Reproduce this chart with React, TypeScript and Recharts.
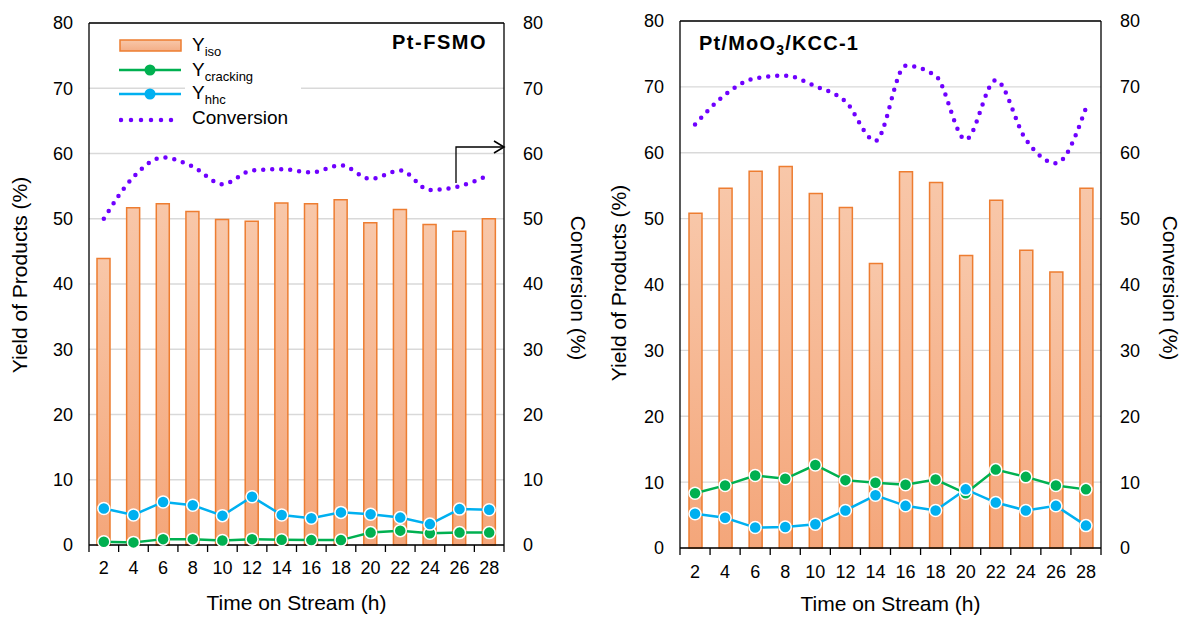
import React from 'react';
import {
  ComposedChart,
  Bar,
  Line,
  XAxis,
  YAxis,
  CartesianGrid,
  ReferenceLine,
  Legend,
  Label,
} from 'recharts';

const FONT = '"Liberation Sans", Arial, Helvetica, sans-serif';

// ---------- data ----------
const times = ['2', '4', '6', '8', '10', '12', '14', '16', '18', '20', '22', '24', '26', '28'];
const yTicks = [0, 10, 20, 30, 40, 50, 60, 70, 80];

// Pt-FSMO
const fsmoIso = [43.9, 51.7, 52.3, 51.1, 49.9, 49.6, 52.4, 52.3, 52.9, 49.4, 51.4, 49.1, 48.1, 50.0];
const fsmoCracking = [0.5, 0.4, 0.9, 0.9, 0.7, 0.9, 0.8, 0.75, 0.75, 1.9, 2.2, 1.8, 1.9, 1.9];
const fsmoHhc = [5.6, 4.6, 6.6, 6.1, 4.5, 7.4, 4.6, 4.1, 5.0, 4.7, 4.2, 3.2, 5.5, 5.4];
const fsmoConversion = [50.0, 56.4, 59.4, 58.0, 55.3, 57.4, 57.6, 57.1, 58.2, 56.1, 57.4, 54.4, 55.0, 56.7];

// Pt/MoO3/KCC-1
const kccIso = [50.8, 54.6, 57.2, 57.9, 53.8, 51.7, 43.2, 57.1, 55.5, 44.4, 52.8, 45.2, 41.9, 54.6];
const kccCracking = [8.3, 9.5, 11.0, 10.5, 12.6, 10.3, 9.9, 9.6, 10.4, 8.3, 11.9, 10.8, 9.5, 8.9];
const kccHhc = [5.2, 4.6, 3.1, 3.2, 3.6, 5.7, 8.0, 6.4, 5.7, 8.9, 6.9, 5.7, 6.4, 3.4];
const kccConversion = [64.3, 68.8, 71.3, 71.7, 70.1, 67.8, 61.8, 73.2, 71.7, 62.0, 71.0, 62.0, 58.4, 66.8];

const build = (iso: number[], crack: number[], hhc: number[], conv: number[]) =>
  times.map((t, i) => ({ t, iso: iso[i], crack: crack[i], hhc: hhc[i], conv: conv[i] }));

const fsmoData = build(fsmoIso, fsmoCracking, fsmoHhc, fsmoConversion);
const kccData = build(kccIso, kccCracking, kccHhc, kccConversion);

// ---------- styles ----------
const GREEN = '#00b050';
const BLUE = '#00b0f0';
const PURPLE = '#6f00ff';
const BAR_STROKE = '#ed7d31';
const GRID = '#d9d9d9';

const makeXTick = (bw: number, n: number, labelDy: number) => (props: any) => {
  const { x, y, payload, index } = props;
  return (
    <g>
      <line x1={x - bw / 2} x2={x - bw / 2} y1={y} y2={y + 7} stroke="#000" strokeWidth={1.3} />
      {index === n - 1 && (
        <line x1={x + bw / 2} x2={x + bw / 2} y1={y} y2={y + 7} stroke="#000" strokeWidth={1.3} />
      )}
      <text
        x={x}
        y={y + labelDy}
        textAnchor="middle"
        dominantBaseline="central"
        fontSize={18}
        fontFamily={FONT}
        fill="#000"
      >
        {payload.value}
      </text>
    </g>
  );
};

const Dot = (color: string) => ({ r: 6, fill: color, stroke: '#fff', strokeWidth: 1.5 });

const LegendBox = () => {
  const row = (c: number) => ({
    position: 'absolute' as const,
    top: c - 13,
    left: 73,
    height: 26,
    lineHeight: '26px',
    fontSize: 19,
    color: '#000',
    whiteSpace: 'nowrap' as const,
  });
  const sub = { fontSize: 13, position: 'relative' as const, top: 5 };
  return (
    <div style={{ position: 'relative', width: 190, height: 108, fontFamily: FONT }}>
      <div style={{ position: 'absolute', left: 66, top: 0, width: 116, height: 106, background: '#fff' }} />
      <svg width={66} height={108} style={{ position: 'absolute', left: 0, top: 0 }}>
        <defs>
          <linearGradient id="legGrad" x1="0" y1="0" x2="0" y2="1">
            <stop offset="0%" stopColor="#f8c7a9" />
            <stop offset="100%" stopColor="#f4ae86" />
          </linearGradient>
        </defs>
        <rect x={1} y={10} width={61} height={11} fill="url(#legGrad)" stroke={BAR_STROKE} strokeWidth={1.5} />
        <line x1={0} x2={62} y1={40} y2={40} stroke={GREEN} strokeWidth={2.5} />
        <circle cx={31} cy={40} r={5.5} fill={GREEN} />
        <line x1={0} x2={62} y1={64} y2={64} stroke={BLUE} strokeWidth={2.5} />
        <circle cx={31} cy={64} r={5.5} fill={BLUE} />
        <line x1={2} x2={62} y1={90} y2={90} stroke={PURPLE} strokeWidth={4.5} strokeDasharray="0 10" strokeLinecap="round" />
      </svg>
      <div style={row(15)}>Y<span style={sub}>iso</span></div>
      <div style={row(40)}>Y<span style={sub}>cracking</span></div>
      <div style={row(63)}>Y<span style={sub}>hhc</span></div>
      <div style={row(88)}>Conversion</div>
    </div>
  );
};

type PanelProps = {
  data: any[];
  left: number;
  width: number;
  plotLeft: number;
  plotRight: number;
  plotTop: number;
  plotBottom: number;
  leftTitleX: number;
  leftTitleY: number;
  rightTitleX: number;
  rightTitleY: number;
  xLabelDy: number;
  xTitleDy: number;
  showLegend?: boolean;
  gradId: string;
};

const Panel = (p: PanelProps) => {
  const H = 617;
  const plotW = p.plotRight - p.plotLeft;
  const bw = plotW / times.length;
  const tickStyle = { fontSize: 18, fontFamily: FONT, fill: '#000' };
  return (
    <div style={{ position: 'absolute', left: p.left, top: 0 }}>
      <ComposedChart
        width={p.width}
        height={H}
        data={p.data}
        margin={{ top: p.plotTop, right: 0, left: 0, bottom: 0 }}
      >
        <defs>
          <linearGradient id={p.gradId} x1="0" y1="0" x2="0" y2="1">
            <stop offset="0%" stopColor="#f8c7a9" />
            <stop offset="100%" stopColor="#f4a67a" />
          </linearGradient>
        </defs>
        <CartesianGrid yAxisId="left" vertical={false} stroke={GRID} strokeWidth={1.3} />
        <XAxis
          dataKey="t"
          type="category"
          height={H - p.plotBottom}
          axisLine={{ stroke: '#000', strokeWidth: 1.3 }}
          tickLine={false}
          tickSize={0}
          tickMargin={0}
          interval={0}
          tick={makeXTick(bw, times.length, p.xLabelDy)}
        >
          <Label
            content={(lp: any) => {
              const vb = lp.viewBox || {};
              return (
                <text
                  x={vb.x + vb.width / 2}
                  y={vb.y + p.xTitleDy}
                  textAnchor="middle"
                  dominantBaseline="central"
                  fontSize={21}
                  fontFamily={FONT}
                  fill="#000"
                >
                  Time on Stream (h)
                </text>
              );
            }}
          />
        </XAxis>
        <YAxis
          yAxisId="left"
          orientation="left"
          width={p.plotLeft}
          domain={[0, 80]}
          ticks={yTicks}
          interval={0}
          axisLine={{ stroke: '#000', strokeWidth: 1.3 }}
          tickLine={false}
          tickSize={0}
          tickMargin={16}
          tick={tickStyle}
        >
          <Label
            content={() => (
              <text
                x={p.leftTitleX}
                y={p.leftTitleY}
                transform={`rotate(-90 ${p.leftTitleX} ${p.leftTitleY})`}
                textAnchor="middle"
                dominantBaseline="central"
                fontSize={21}
                fontFamily={FONT}
                fill="#000"
              >
                Yield of Products (%)
              </text>
            )}
          />
        </YAxis>
        <YAxis
          yAxisId="right"
          orientation="right"
          width={p.width - p.plotRight}
          domain={[0, 80]}
          ticks={yTicks}
          interval={0}
          axisLine={{ stroke: '#000', strokeWidth: 1.3 }}
          tickLine={false}
          tickSize={0}
          tickMargin={19}
          tick={{ ...tickStyle, textAnchor: 'start' }}
        >
          <Label
            content={() => (
              <text
                x={p.rightTitleX}
                y={p.rightTitleY}
                transform={`rotate(90 ${p.rightTitleX} ${p.rightTitleY})`}
                textAnchor="middle"
                dominantBaseline="central"
                fontSize={21}
                fontFamily={FONT}
                fill="#000"
              >
                Conversion (%)
              </text>
            )}
          />
        </YAxis>
        <ReferenceLine yAxisId="left" y={80} stroke="#000" strokeWidth={1.3} />
        {p.showLegend && (
          <Legend
            layout="horizontal"
            verticalAlign="middle"
            align="center"
            content={() => <LegendBox />}
            wrapperStyle={{ position: 'absolute', left: 119, top: 30, width: 190, height: 108 }}
          />
        )}
        <Bar
          yAxisId="left"
          dataKey="iso"
          name="Yiso"
          barSize={13}
          fill={`url(#${p.gradId})`}
          stroke={BAR_STROKE}
          strokeWidth={1.5}
          isAnimationActive={false}
        />
        <Line
          yAxisId="right"
          dataKey="conv"
          name="Conversion"
          type="monotone"
          stroke={PURPLE}
          strokeWidth={4.5}
          strokeDasharray="0 9"
          strokeLinecap="round"
          dot={false}
          activeDot={false}
          isAnimationActive={false}
        />
        <Line
          yAxisId="left"
          dataKey="crack"
          name="Ycracking"
          type="linear"
          stroke={GREEN}
          strokeWidth={2.5}
          dot={Dot(GREEN)}
          activeDot={false}
          isAnimationActive={false}
        />
        <Line
          yAxisId="left"
          dataKey="hhc"
          name="Yhhc"
          type="linear"
          stroke={BLUE}
          strokeWidth={2.5}
          dot={Dot(BLUE)}
          activeDot={false}
          isAnimationActive={false}
        />
      </ComposedChart>
    </div>
  );
};

export default function App() {
  return (
    <div
      style={{
        position: 'absolute',
        left: 0,
        top: 0,
        width: 1181,
        height: 617,
        background: '#fff',
        overflow: 'hidden',
        fontFamily: FONT,
      }}
    >
      <Panel
        data={fsmoData}
        left={0}
        width={590}
        plotLeft={89}
        plotRight={504}
        plotTop={23}
        plotBottom={545}
        leftTitleX={19}
        leftTitleY={275}
        rightTitleX={578}
        rightTitleY={288}
        xLabelDy={23}
        xTitleDy={57}
        showLegend
        gradId="barGradA"
      />
      <Panel
        data={kccData}
        left={590}
        width={591}
        plotLeft={90}
        plotRight={511}
        plotTop={21}
        plotBottom={548}
        leftTitleX={28}
        leftTitleY={283}
        rightTitleX={580}
        rightTitleY={288}
        xLabelDy={24}
        xTitleDy={55}
        gradId="barGradB"
      />
      {/* panel titles */}
      <div
        style={{
          position: 'absolute',
          left: 392,
          top: 30,
          fontSize: 20,
          fontWeight: 'bold',
          letterSpacing: 1.5,
          lineHeight: '24px',
          color: '#000',
        }}
      >
        Pt-FSMO
      </div>
      <div
        style={{
          position: 'absolute',
          left: 699,
          top: 31,
          fontSize: 20,
          fontWeight: 'bold',
          letterSpacing: 1.2,
          lineHeight: '24px',
          color: '#000',
        }}
      >
        Pt/MoO<span style={{ fontSize: 14, position: 'relative', top: 5 }}>3</span>/KCC-1
      </div>
      {/* arrow pointing to the conversion axis */}
      <svg width={1181} height={617} style={{ position: 'absolute', left: 0, top: 0, pointerEvents: 'none' }}>
        <polyline points="456,183 456,147 503,147" fill="none" stroke="#000" strokeWidth={1.3} />
        <polyline points="494,141 504,147 494,153" fill="none" stroke="#000" strokeWidth={1.6} />
      </svg>
    </div>
  );
}
